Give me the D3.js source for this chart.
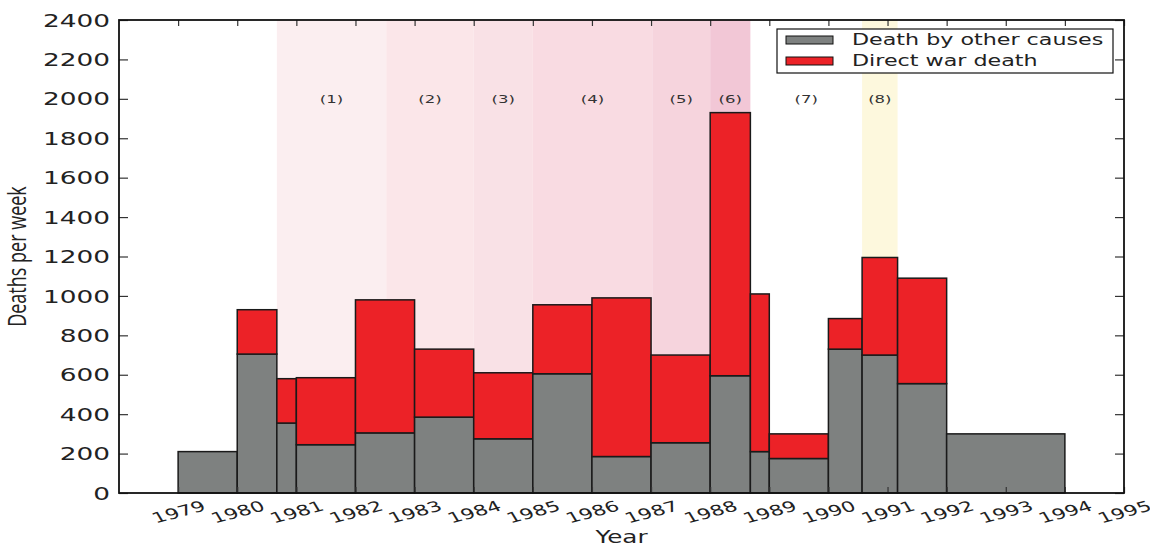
<!doctype html>
<html>
	<head>
		<style>
			body{ margin: 0; background: #fff; }
			#chart text{ font-family: "DejaVu Sans", sans-serif; fill: #222; }
		</style>
	</head>
	<body>
		<svg id=chart></svg>

		<script src="https://d3js.org/d3.v7.min.js"></script>
		<script>
			// bins (year where each bar starts / ends)
			var binStart = [1979, 1980, 1980.67, 1981, 1982, 1983, 1984, 1985, 1986, 1987, 1988, 1988.68, 1989, 1990, 1990.57, 1991.17, 1992];
			var binEnd   = [1980, 1980.67, 1981, 1982, 1983, 1984, 1985, 1986, 1987, 1988, 1988.68, 1989, 1990, 1990.57, 1991.17, 1992, 1994];
			var otherDeaths = [210, 705, 355, 245, 305, 385, 275, 605, 185, 255, 595, 210, 175, 730, 700, 555, 300];
			var warDeaths   = [0, 225, 225, 340, 675, 345, 335, 350, 805, 445, 1335, 800, 125, 155, 495, 535, 0];

			// shaded periods
			var periodStart = [1980.67, 1982.52, 1984, 1985, 1987.02, 1988, 1988.68, 1990.57];
			var periodEnd   = [1982.52, 1984, 1985, 1987.02, 1988, 1988.68, 1990.57, 1991.17];
			var periodLabels = ["(1)", "(2)", "(3)", "(4)", "(5)", "(6)", "(7)", "(8)"];

			var yearTicks = [1979, 1980, 1981, 1982, 1983, 1984, 1985, 1986, 1987, 1988, 1989, 1990, 1991, 1992, 1993, 1994, 1995];
			var deathTicks = [0, 200, 400, 600, 800, 1000, 1200, 1400, 1600, 1800, 2000, 2200, 2400];
			var seriesNames = ["Death by other causes", "Direct war death"];

			var W = 1150, H = 546,
				plotL = 119, plotR = 1124, plotT = 20, plotB = 493,
				sx = 1.5; // the picture is stretched sideways, so is the text
			var periodColors = ["#fbeef0", "#fbe6e9", "#f9e1e6", "#f9dbe2", "#f6d4dd", "#f2c7d6", "none", "#fdf8dd"];
			var grey = "#7e8180", red = "#ec2227";

			var svg = d3.select("#chart").attr("width", W).attr("height", H);

			var x = d3.scaleLinear().domain([1978, 1995]).range([plotL, plotR]);
			var y = d3.scaleLinear().domain([0, 2400]).range([plotB, plotT]);

			// period bands
			svg.append("g").selectAll("rect")
				.data(periodStart)
				.enter().append("rect")
					.attr("x", function(d) { return x(d); })
					.attr("y", plotT)
					.attr("width", function(d, i) { return x(periodEnd[i]) - x(d); })
					.attr("height", plotB - plotT)
					.attr("fill", function(d, i) { return periodColors[i]; });

			// stacked bars
			var bins = binStart.map(function(d, i) { return i; });
			var bar = svg.append("g").selectAll("g")
				.data(bins)
				.enter().append("g");
			bar.append("rect")
				.attr("x", function(i) { return x(binStart[i]); })
				.attr("y", function(i) { return y(otherDeaths[i]); })
				.attr("width", function(i) { return x(binEnd[i]) - x(binStart[i]); })
				.attr("height", function(i) { return y(0) - y(otherDeaths[i]); })
				.attr("fill", grey).attr("stroke", "#1a1a1a").attr("stroke-width", 1.5);
			bar.filter(function(i) { return warDeaths[i] > 0; }).append("rect")
				.attr("x", function(i) { return x(binStart[i]); })
				.attr("y", function(i) { return y(otherDeaths[i] + warDeaths[i]); })
				.attr("width", function(i) { return x(binEnd[i]) - x(binStart[i]); })
				.attr("height", function(i) { return y(otherDeaths[i]) - y(otherDeaths[i] + warDeaths[i]); })
				.attr("fill", red).attr("stroke", "#1a1a1a").attr("stroke-width", 1.5);

			// period labels
			svg.append("g").selectAll("text")
				.data(periodLabels)
				.enter().append("text")
					.attr("transform", function(d, i) { return "translate(" + x((periodStart[i] + periodEnd[i]) / 2) + "," + y(2000) + ") scale(" + sx + ",1)"; })
					.attr("text-anchor", "middle")
					.attr("dy", "0.35em")
					.attr("font-size", 11)
					.style("fill", "#333")
					.text(function(d) { return d; });

			// axes, ticks pointing inwards
			var gy = svg.append("g").attr("transform", "translate(" + plotL + ",0)")
				.call(d3.axisLeft(y).tickValues(deathTicks).tickSize(-9).tickFormat(d3.format("d")));
			gy.selectAll(".tick text")
				.attr("x", null).attr("dy", "0.36em")
				.attr("text-anchor", "end")
				.attr("font-size", 17)
				.attr("transform", "translate(-9,0) scale(1.55,1)");
			svg.append("g").attr("transform", "translate(" + plotR + ",0)")
				.call(d3.axisRight(y).tickValues(deathTicks).tickSize(-9).tickFormat(""));
			svg.append("g").attr("transform", "translate(0," + plotT + ")")
				.call(d3.axisTop(x).tickValues(yearTicks).tickSize(-6).tickFormat(""));
			var gx = svg.append("g").attr("transform", "translate(0," + plotB + ")")
				.call(d3.axisBottom(x).tickValues(yearTicks).tickSize(-6).tickFormat(d3.format("d")));
			gx.selectAll(".tick text")
				.attr("y", null).attr("dy", "0.35em")
				.attr("text-anchor", "middle")
				.attr("font-size", 14.5)
				.attr("transform", "translate(0,19) scale(" + sx + ",1) rotate(-22)");
			svg.selectAll(".domain").remove();
			svg.selectAll(".tick line").attr("stroke", "#333").attr("stroke-width", 1.2);

			svg.append("rect")
				.attr("x", plotL).attr("y", plotT)
				.attr("width", plotR - plotL).attr("height", plotB - plotT)
				.attr("fill", "none").attr("stroke", "#111").attr("stroke-width", 1.8);

			// axis titles
			svg.append("text")
				.attr("transform", "translate(" + ((plotL + plotR) / 2) + ",543) scale(1.45,1)")
				.attr("text-anchor", "middle")
				.attr("font-size", 17)
				.text("Year");
			svg.append("text")
				.attr("transform", "translate(26," + ((plotT + plotB) / 2) + ") scale(1.45,1) rotate(-90)")
				.attr("text-anchor", "middle")
				.attr("font-size", 18)
				.style("font-family", "'Open Sans', sans-serif")
				.text("Deaths per week");

			// legend
			var legend = svg.append("g").attr("transform", "translate(777,29)");
			legend.append("rect")
				.attr("width", 336).attr("height", 44)
				.attr("fill", "#fff").attr("stroke", "#111").attr("stroke-width", 1.2);
			var item = legend.selectAll(".item")
				.data(seriesNames)
				.enter().append("g")
					.attr("transform", function(d, i) { return "translate(0," + (i * 21) + ")"; });
			item.append("rect")
				.attr("x", 9).attr("y", 7)
				.attr("width", 47).attr("height", 8)
				.attr("fill", function(d, i) { return i ? red : grey; })
				.attr("stroke", "#111").attr("stroke-width", 1);
			item.append("text")
				.attr("transform", "translate(75,11) scale(1.48,1)")
				.attr("dy", "0.36em")
				.attr("font-size", 15)
				.text(function(d) { return d; });
		</script>
	</body>
</html>
